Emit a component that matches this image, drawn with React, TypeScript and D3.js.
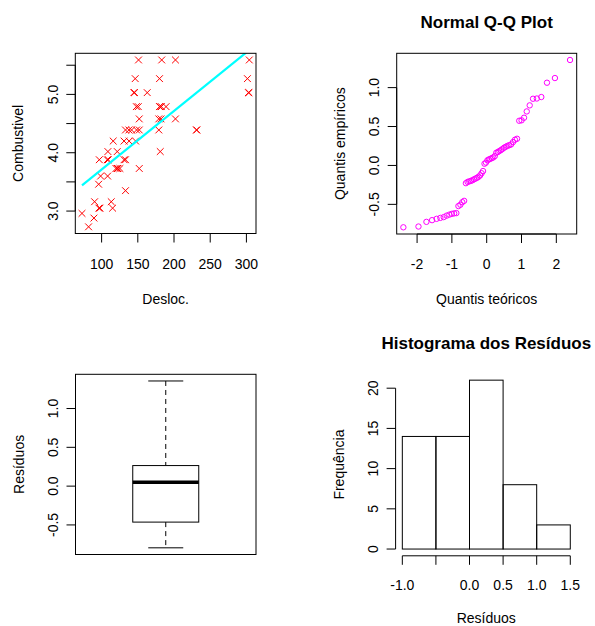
import React from "react";
import * as d3 from "d3";

// ---------- data ----------
const desloc = [
  151, 183, 202, 304,
  146.4, 180, 301.4,
  144.6, 145.5, 163, 302.8, 303.5,
  148, 150.6, 180, 180.5, 182.5, 189,
  152, 179, 182, 202,
  133, 137.7, 141.4, 148.3, 152, 179, 231, 231.5,
  116, 131, 138, 147,
  108.7, 121.6, 181,
  96.8, 107.8, 109.2, 131, 133,
  119.8, 121.6, 121.9, 122.5, 125.3, 152,
  98.6, 108.3,
  95.9,
  133,
  90.3, 113.3,
  96.3, 97.7, 115.2,
  72.9,
  89.4,
  82,
];
const combustivel = [
  5.59, 5.59, 5.59, 5.59,
  5.27, 5.27, 5.27,
  5.03, 5.03, 5.03, 5.03, 5.03,
  4.79, 4.79, 4.79, 4.79, 4.79, 4.79,
  4.58, 4.58, 4.58, 4.58,
  4.39, 4.39, 4.39, 4.39, 4.39, 4.39, 4.39, 4.39,
  4.2, 4.2, 4.2, 4.2,
  4.02, 4.02, 4.02,
  3.88, 3.88, 3.88, 3.88, 3.88,
  3.73, 3.73, 3.73, 3.73, 3.73, 3.73,
  3.6, 3.6,
  3.46,
  3.35,
  3.16, 3.16,
  3.05, 3.05, 3.05,
  2.96,
  2.88,
  2.73,
];
const fitX = [72.9, 304];
const fitY = [3.44, 5.76];

const residuos = [
  -0.795, -0.785, -0.725, -0.703, -0.686, -0.674, -0.664, -0.645, -0.632, -0.622,
  -0.616, -0.612, -0.522, -0.505, -0.472, -0.455, -0.228, -0.212, -0.205, -0.198,
  -0.19, -0.178, -0.168, -0.158, -0.145, -0.128, -0.1, -0.072, 0.022, 0.036,
  0.066, 0.077, 0.085, 0.094, 0.103, 0.12, 0.163, 0.172, 0.185, 0.197,
  0.212, 0.228, 0.24, 0.252, 0.26, 0.27, 0.3, 0.33, 0.343, 0.574,
  0.58, 0.613, 0.694, 0.772, 0.857, 0.86, 0.879, 1.063, 1.123, 1.355,
];

const histBreaks = [-1, -0.5, 0, 0.5, 1, 1.5];

const scatterXTicks = [100, 150, 200, 250, 300];
const scatterYTicks = [3, 3.5, 4, 4.5, 5, 5.5];
const scatterYLabels = ["3.0", "", "4.0", "", "5.0", ""];
const qqXTicks = [-2, -1, 0, 1, 2];
const qqXLabels = ["-2", "-1", "0", "1", "2"];
const residYTicks = [-0.5, 0, 0.5, 1];
const residYLabels = ["-0.5", "0.0", "0.5", "1.0"];
const histXTicks = [-1, -0.5, 0, 0.5, 1, 1.5];
const histXLabels = ["-1.0", "", "0.0", "0.5", "1.0", "1.5"];
const histYTicks = [0, 5, 10, 15, 20];
const histYLabels = ["0", "5", "10", "15", "20"];

// ---------- helpers ----------
const FONT = "'Liberation Sans', Arial, Helvetica, sans-serif";
const FS = 14;
const TFS = 17;
const TICK = 9;

function padExt(e: [number, number]): [number, number] {
  const r = e[1] - e[0];
  return [e[0] - 0.04 * r, e[1] + 0.04 * r];
}

// Acklam inverse normal CDF
function qnorm(p: number): number {
  const a = [-3.969683028665376e1, 2.209460984245205e2, -2.759285104469687e2, 1.38357751867269e2, -3.066479806614716e1, 2.506628277459239];
  const b = [-5.447609879822406e1, 1.615858368580409e2, -1.556989798598866e2, 6.680131188771972e1, -1.328068155288572e1];
  const c = [-7.784894002430293e-3, -3.223964580411365e-1, -2.400758277161838, -2.549732539343734, 4.374664141464968, 2.938163982698783];
  const d = [7.784695709041462e-3, 3.224671290700398e-1, 2.445134137142996, 3.754408661907416];
  const pl = 0.02425;
  if (p < pl) {
    const q = Math.sqrt(-2 * Math.log(p));
    return (((((c[0] * q + c[1]) * q + c[2]) * q + c[3]) * q + c[4]) * q + c[5]) / ((((d[0] * q + d[1]) * q + d[2]) * q + d[3]) * q + 1);
  }
  if (p > 1 - pl) {
    const q = Math.sqrt(-2 * Math.log(1 - p));
    return -(((((c[0] * q + c[1]) * q + c[2]) * q + c[3]) * q + c[4]) * q + c[5]) / ((((d[0] * q + d[1]) * q + d[2]) * q + d[3]) * q + 1);
  }
  const q = p - 0.5;
  const r = q * q;
  return ((((((a[0] * r + a[1]) * r + a[2]) * r + a[3]) * r + a[4]) * r + a[5]) * q) / (((((b[0] * r + b[1]) * r + b[2]) * r + b[3]) * r + b[4]) * r + 1);
}

type Scale = (v: number) => number;

function BottomAxis({ scale, ticks, labels, y, labelOffset = 30 }: { scale: Scale; ticks: number[]; labels: string[]; y: number; labelOffset?: number }) {
  const x0 = scale(ticks[0]);
  const x1 = scale(ticks[ticks.length - 1]);
  return (
    <g>
      <line x1={x0} x2={x1} y1={y} y2={y} stroke="#000" />
      {ticks.map((t, i) => (
        <g key={i}>
          <line x1={scale(t)} x2={scale(t)} y1={y} y2={y + TICK} stroke="#000" />
          {labels[i] ? (
            <text x={scale(t)} y={y + labelOffset} textAnchor="middle" dominantBaseline="central" fontSize={FS} fontFamily={FONT}>
              {labels[i]}
            </text>
          ) : null}
        </g>
      ))}
    </g>
  );
}

function LeftAxis({ scale, ticks, labels, x }: { scale: Scale; ticks: number[]; labels: string[]; x: number }) {
  const y0 = scale(ticks[0]);
  const y1 = scale(ticks[ticks.length - 1]);
  return (
    <g>
      <line x1={x} x2={x} y1={y0} y2={y1} stroke="#000" />
      {ticks.map((t, i) => (
        <g key={i}>
          <line x1={x - TICK} x2={x} y1={scale(t)} y2={scale(t)} stroke="#000" />
          {labels[i] ? (
            <text
              transform={`translate(${x - 22.5},${scale(t)}) rotate(-90)`}
              textAnchor="middle"
              dominantBaseline="central"
              fontSize={FS}
              fontFamily={FONT}
            >
              {labels[i]}
            </text>
          ) : null}
        </g>
      ))}
    </g>
  );
}

function XTitle({ x, y, text }: { x: number; y: number; text: string }) {
  return (
    <text x={x} y={y} textAnchor="middle" dominantBaseline="central" fontSize={FS} fontFamily={FONT}>
      {text}
    </text>
  );
}
function YTitle({ x, y, text }: { x: number; y: number; text: string }) {
  return (
    <text transform={`translate(${x},${y}) rotate(-90)`} textAnchor="middle" dominantBaseline="central" fontSize={FS} fontFamily={FONT}>
      {text}
    </text>
  );
}
function Title({ x, y, text }: { x: number; y: number; text: string }) {
  return (
    <text x={x} y={y} textAnchor="middle" dominantBaseline="central" fontSize={TFS} fontWeight="bold" fontFamily={FONT}>
      {text}
    </text>
  );
}

export default function App() {
  // panel geometry
  const P1 = { l: 75.3, r: 256, t: 53.3, b: 233.5 };
  const P2 = { l: 396.7, r: 576.7, t: 53.3, b: 234 };
  const P3 = { l: 75.5, r: 256, t: 374.3, b: 554.5 };
  const P4 = { l: 395.6, r: 577, t: 373.4, b: 555.8 };

  // ---- scatter ----
  const sx = d3.scaleLinear().domain(padExt(d3.extent(desloc) as [number, number])).range([P1.l, P1.r]);
  const sy = d3.scaleLinear().domain(padExt(d3.extent(combustivel) as [number, number])).range([P1.b, P1.t]);
  const fitLine = d3
    .line<number>()
    .x((_, i) => sx(fitX[i]))
    .y((_, i) => sy(fitY[i]))(fitX);

  // ---- qq ----
  const sorted = [...residuos].sort((a, b) => a - b);
  const n = sorted.length;
  const aa = n <= 10 ? 3 / 8 : 0.5;
  const theo = sorted.map((_, i) => qnorm((i + 1 - aa) / (n + 1 - 2 * aa)));
  const qx = d3.scaleLinear().domain(padExt(d3.extent(theo) as [number, number])).range([P2.l, P2.r]);
  const resExt = padExt(d3.extent(sorted) as [number, number]);
  const qy = d3.scaleLinear().domain(resExt).range([P2.b, P2.t]);

  // ---- boxplot (R fivenum) ----
  const at = (k: number) => 0.5 * (sorted[Math.floor(k) - 1] + sorted[Math.ceil(k) - 1]);
  const n4 = Math.floor((n + 3) / 2) / 2;
  const fn = [1, n4, (n + 1) / 2, n + 1 - n4, n].map(at);
  const iqr = fn[3] - fn[1];
  const loW = d3.min(sorted.filter((v) => v >= fn[1] - 1.5 * iqr)) as number;
  const hiW = d3.max(sorted.filter((v) => v <= fn[3] + 1.5 * iqr)) as number;
  const by = d3.scaleLinear().domain(resExt).range([P3.b, P3.t]);
  const bcx = (P3.l + P3.r) / 2;
  const bhw = 33;
  const chw = 17.5;

  // ---- histogram ----
  const bins = d3
    .bin()
    .domain([histBreaks[0], histBreaks[histBreaks.length - 1]])
    .thresholds(histBreaks.slice(1, -1))(residuos);
  const maxCount = d3.max(bins, (b) => b.length) as number;
  const hx = d3.scaleLinear().domain(padExt([histBreaks[0], histBreaks[histBreaks.length - 1]])).range([P4.l, P4.r]);
  const hy = d3.scaleLinear().domain(padExt([0, maxCount])).range([P4.b, P4.t]);

  const cross = 3.4;

  return (
    <svg width={595} height={626} style={{ position: "absolute", left: 0, top: 0, background: "#fff" }}>
      <rect x={0} y={0} width={595} height={626} fill="#fff" />
      <defs>
        <clipPath id="clip1">
          <rect x={P1.l} y={P1.t} width={P1.r - P1.l} height={P1.b - P1.t} />
        </clipPath>
      </defs>

      {/* Panel 1: scatter */}
      <g>
        {desloc.map((x, i) => (
          <g key={i} stroke="#FF0000" strokeWidth={1}>
            <line x1={sx(x) - cross} x2={sx(x) + cross} y1={sy(combustivel[i]) - cross} y2={sy(combustivel[i]) + cross} />
            <line x1={sx(x) - cross} x2={sx(x) + cross} y1={sy(combustivel[i]) + cross} y2={sy(combustivel[i]) - cross} />
          </g>
        ))}
        <path d={fitLine || ""} stroke="#00FFFF" strokeWidth={2.2} fill="none" clipPath="url(#clip1)" />
        <rect x={P1.l} y={P1.t} width={P1.r - P1.l} height={P1.b - P1.t} fill="none" stroke="#000" />
        <BottomAxis scale={sx} ticks={scatterXTicks} labels={scatterXTicks.map(String)} y={P1.b} />
        <LeftAxis scale={sy} ticks={scatterYTicks} labels={scatterYLabels} x={P1.l} />
        <XTitle x={(P1.l + P1.r) / 2} y={P1.b + 65} text="Desloc." />
        <YTitle x={P1.l - 57} y={(P1.t + P1.b) / 2} text="Combustivel" />
      </g>

      {/* Panel 2: QQ */}
      <g>
        {sorted.map((v, i) => (
          <circle key={i} cx={qx(theo[i])} cy={qy(v)} r={2.7} fill="none" stroke="#FF00FF" strokeWidth={1} />
        ))}
        <rect x={P2.l} y={P2.t} width={P2.r - P2.l} height={P2.b - P2.t} fill="none" stroke="#000" />
        <BottomAxis scale={qx} ticks={qqXTicks} labels={qqXLabels} y={P2.b} />
        <LeftAxis scale={qy} ticks={residYTicks} labels={residYLabels} x={P2.l} />
        <XTitle x={(P2.l + P2.r) / 2} y={P2.b + 65} text="Quantis teóricos" />
        <YTitle x={P2.l - 57} y={(P2.t + P2.b) / 2} text="Quantis empíricos" />
        <Title x={(P2.l + P2.r) / 2} y={22} text="Normal Q-Q Plot" />
      </g>

      {/* Panel 3: boxplot */}
      <g>
        <line x1={bcx} x2={bcx} y1={by(hiW)} y2={by(fn[3])} stroke="#000" strokeDasharray="5,4" />
        <line x1={bcx} x2={bcx} y1={by(fn[1])} y2={by(loW)} stroke="#000" strokeDasharray="5,4" />
        <line x1={bcx - chw} x2={bcx + chw} y1={by(hiW)} y2={by(hiW)} stroke="#000" />
        <line x1={bcx - chw} x2={bcx + chw} y1={by(loW)} y2={by(loW)} stroke="#000" />
        <rect x={bcx - bhw} y={by(fn[3])} width={2 * bhw} height={by(fn[1]) - by(fn[3])} fill="none" stroke="#000" />
        <line x1={bcx - bhw} x2={bcx + bhw} y1={by(fn[2])} y2={by(fn[2])} stroke="#000" strokeWidth={3.5} />
        <rect x={P3.l} y={P3.t} width={P3.r - P3.l} height={P3.b - P3.t} fill="none" stroke="#000" />
        <LeftAxis scale={by} ticks={residYTicks} labels={residYLabels} x={P3.l} />
        <YTitle x={P3.l - 57} y={(P3.t + P3.b) / 2} text="Resíduos" />
      </g>

      {/* Panel 4: histogram */}
      <g>
        {bins.map((b, i) => (
          <rect
            key={i}
            x={hx(b.x0 as number)}
            y={hy(b.length)}
            width={hx(b.x1 as number) - hx(b.x0 as number)}
            height={hy(0) - hy(b.length)}
            fill="none"
            stroke="#000"
          />
        ))}
        <BottomAxis scale={hx} ticks={histXTicks} labels={histXLabels} y={P4.b} labelOffset={29.5} />
        <LeftAxis scale={hy} ticks={histYTicks} labels={histYLabels} x={P4.l} />
        <XTitle x={(P4.l + P4.r) / 2} y={P4.b + 62} text="Resíduos" />
        <YTitle x={P4.l - 57} y={(P4.t + P4.b) / 2} text="Frequência" />
        <Title x={(P4.l + P4.r) / 2} y={343} text="Histograma dos Resíduos" />
      </g>
    </svg>
  );
}
